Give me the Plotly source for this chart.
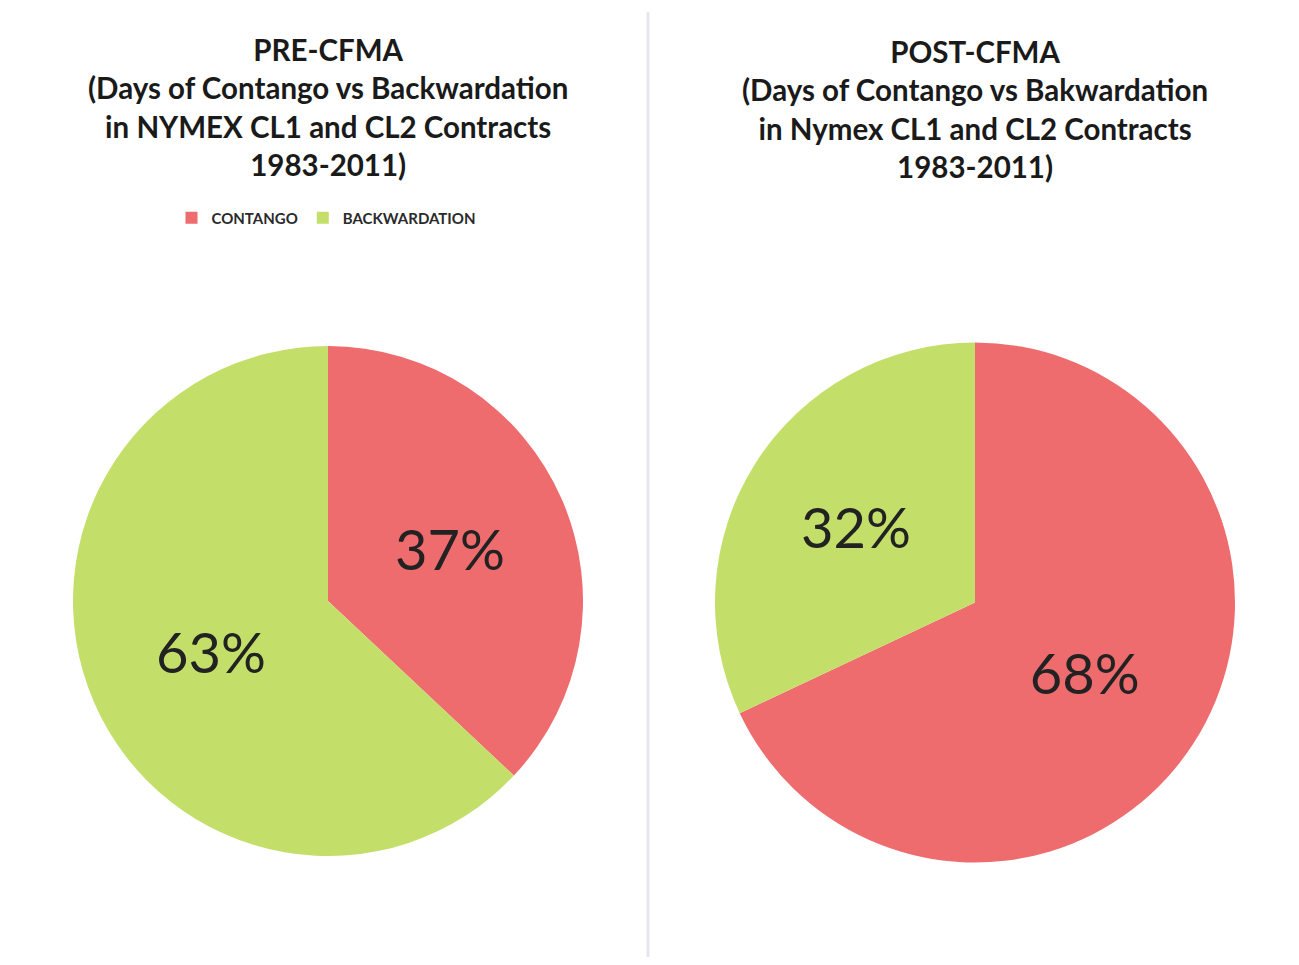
import plotly.graph_objects as go

labels = ["CONTANGO", "BACKWARDATION"]
pre_values = [37, 63]
post_values = [68, 32]
colors = ["#EE6B6E", "#C3DF6A"]

pre_title = "PRE-CFMA<br>(Days of Contango vs Backwardation<br>in NYMEX CL1 and CL2 Contracts<br>1983-2011)"
post_title = "POST-CFMA<br>(Days of Contango vs Bakwardation<br>in Nymex CL1 and CL2 Contracts<br>1983-2011)"

OFF = 8
W, H = 1299 - 2 * OFF, 965 - 2 * OFF

def fx(x):
    return (x - OFF) / W

def fy(y):
    return 1 - (y - OFF) / H

def dom(x0, x1, top, bottom):
    return dict(x=[fx(x0), fx(x1)], y=[fy(bottom), fy(top)])

fig = go.Figure()
fig.add_trace(go.Pie(
    labels=labels, values=pre_values, sort=False, direction="clockwise", rotation=0,
    marker=dict(colors=colors, line=dict(width=0)),
    textinfo="percent", textposition="inside", insidetextorientation="horizontal",
    textfont=dict(size=56, color="#222222", family="Lato"),
    domain=dom(73, 583, 346, 856), legend="legend", hoverinfo="label+percent",
))
fig.add_trace(go.Pie(
    labels=labels, values=post_values, sort=False, direction="clockwise", rotation=0,
    marker=dict(colors=colors, line=dict(width=0)),
    textinfo="percent", textposition="inside", insidetextorientation="horizontal",
    textfont=dict(size=56, color="#222222", family="Lato"),
    domain=dom(715, 1235, 342, 863), legend="legend2", hoverinfo="label+percent",
))

fig.add_annotation(text="<b>" + pre_title + "</b>", x=fx(328), y=fy(30), xref="paper", yref="paper",
                   xanchor="center", yanchor="top", showarrow=False,
                   font=dict(family="Lato", size=29.5, color="#1a1a1a"))
fig.add_annotation(text="<b>" + post_title + "</b>", x=fx(975), y=fy(32), xref="paper", yref="paper",
                   xanchor="center", yanchor="top", showarrow=False,
                   font=dict(family="Lato", size=29.5, color="#1a1a1a"))

fig.add_shape(type="line", x0=fx(648), x1=fx(648), y0=0, y1=fy(12), xref="paper", yref="paper",
              line=dict(color="#E6E6EE", width=3))

fig.update_layout(
    width=W, height=H,
    margin=dict(l=0, r=0, t=0, b=0),
    paper_bgcolor="white", plot_bgcolor="white",
    showlegend=True,
    legend=dict(orientation="h", x=fx(326), y=fy(218), xanchor="center", yanchor="middle",
                font=dict(family="Lato", size=15, color="#2a2a2a", weight="bold"), itemwidth=30,
                bgcolor="rgba(0,0,0,0)"),
    legend2=dict(orientation="h", x=fx(972), y=fy(222), xanchor="center", yanchor="middle",
                 font=dict(family="Lato", size=15, color="#6a6a80", weight="bold"), itemwidth=30,
                 bgcolor="rgba(0,0,0,0)"),
)

fig.write_html("out.html")
